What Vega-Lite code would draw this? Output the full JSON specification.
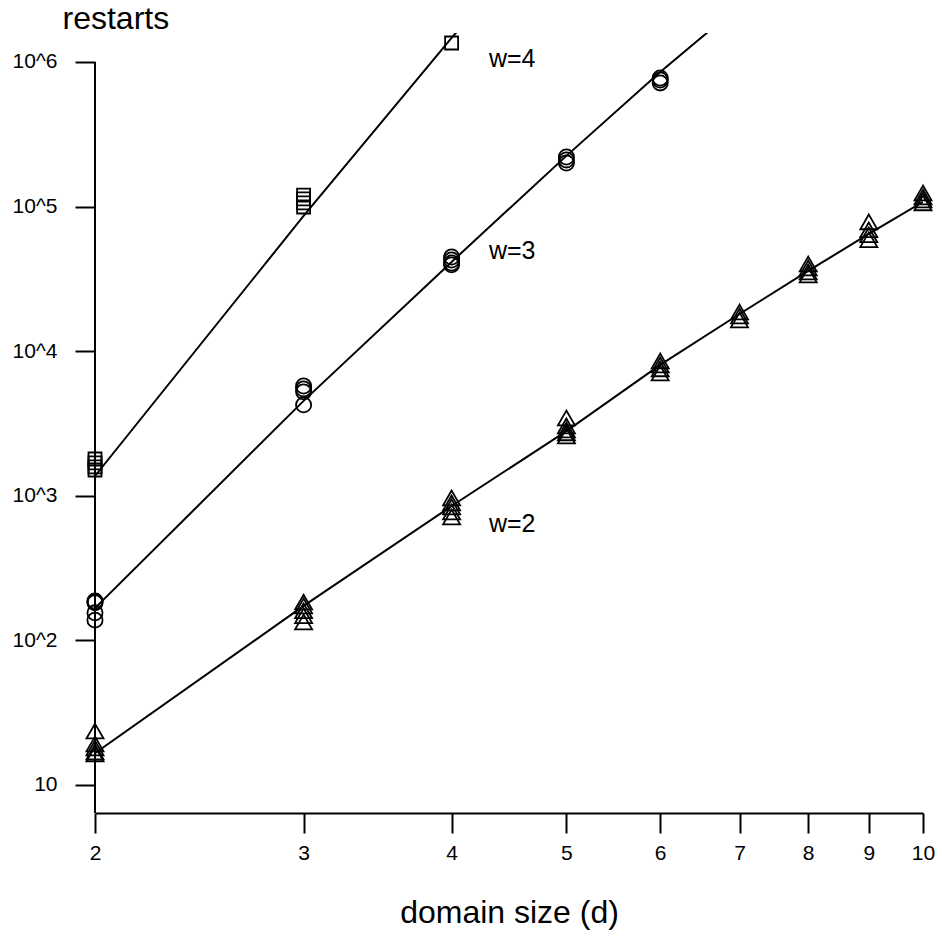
{
  "$schema": "https://vega.github.io/schema/vega-lite/v6.json",
  "width": 828,
  "height": 780,
  "autosize": {"type": "none"},
  "padding": {"left": 95, "top": 33, "right": 17, "bottom": 121},
  "background": "white",
  "config": {
    "view": {"stroke": null},
    "font": "Liberation Sans",
    "axis": {
      "grid": false,
      "domainColor": "black",
      "domainWidth": 2,
      "tickColor": "black",
      "tickWidth": 2,
      "tickSize": 20,
      "labelColor": "black",
      "labelFont": "Liberation Sans",
      "labelFontSize": 21,
      "titleColor": "black",
      "titleFont": "Liberation Sans",
      "titleFontWeight": "normal"
    }
  },
  "datasets": {
    "points": [
      {"d": 2, "restarts": 23.6, "w": "2"},
      {"d": 2, "restarts": 19.2, "w": "2"},
      {"d": 2, "restarts": 18.0, "w": "2"},
      {"d": 2, "restarts": 16.9, "w": "2"},
      {"d": 2, "restarts": 16.4, "w": "2"},
      {"d": 3, "restarts": 184, "w": "2"},
      {"d": 3, "restarts": 173, "w": "2"},
      {"d": 3, "restarts": 160, "w": "2"},
      {"d": 3, "restarts": 148, "w": "2"},
      {"d": 3, "restarts": 134, "w": "2"},
      {"d": 4, "restarts": 966, "w": "2"},
      {"d": 4, "restarts": 892, "w": "2"},
      {"d": 4, "restarts": 837, "w": "2"},
      {"d": 4, "restarts": 773, "w": "2"},
      {"d": 4, "restarts": 713, "w": "2"},
      {"d": 5, "restarts": 3450, "w": "2"},
      {"d": 5, "restarts": 3040, "w": "2"},
      {"d": 5, "restarts": 2850, "w": "2"},
      {"d": 5, "restarts": 2720, "w": "2"},
      {"d": 5, "restarts": 2590, "w": "2"},
      {"d": 6, "restarts": 8550, "w": "2"},
      {"d": 6, "restarts": 8030, "w": "2"},
      {"d": 6, "restarts": 7540, "w": "2"},
      {"d": 6, "restarts": 7070, "w": "2"},
      {"d": 7, "restarts": 18660, "w": "2"},
      {"d": 7, "restarts": 17500, "w": "2"},
      {"d": 7, "restarts": 16430, "w": "2"},
      {"d": 8, "restarts": 40090, "w": "2"},
      {"d": 8, "restarts": 37600, "w": "2"},
      {"d": 8, "restarts": 35300, "w": "2"},
      {"d": 8, "restarts": 33650, "w": "2"},
      {"d": 9, "restarts": 78300, "w": "2"},
      {"d": 9, "restarts": 69000, "w": "2"},
      {"d": 9, "restarts": 63700, "w": "2"},
      {"d": 9, "restarts": 58900, "w": "2"},
      {"d": 10, "restarts": 124000, "w": "2"},
      {"d": 10, "restarts": 116500, "w": "2"},
      {"d": 10, "restarts": 111000, "w": "2"},
      {"d": 10, "restarts": 106000, "w": "2"},
      {"d": 2, "restarts": 187, "w": "3"},
      {"d": 2, "restarts": 184.5, "w": "3"},
      {"d": 2, "restarts": 182, "w": "3"},
      {"d": 2, "restarts": 155, "w": "3"},
      {"d": 2, "restarts": 138, "w": "3"},
      {"d": 3, "restarts": 5740, "w": "3"},
      {"d": 3, "restarts": 5480, "w": "3"},
      {"d": 3, "restarts": 5230, "w": "3"},
      {"d": 3, "restarts": 4250, "w": "3"},
      {"d": 4, "restarts": 44800, "w": "3"},
      {"d": 4, "restarts": 42700, "w": "3"},
      {"d": 4, "restarts": 40700, "w": "3"},
      {"d": 4, "restarts": 39500, "w": "3"},
      {"d": 5, "restarts": 220000, "w": "3"},
      {"d": 5, "restarts": 210000, "w": "3"},
      {"d": 5, "restarts": 200000, "w": "3"},
      {"d": 6, "restarts": 774000, "w": "3"},
      {"d": 6, "restarts": 750000, "w": "3"},
      {"d": 6, "restarts": 716000, "w": "3"},
      {"d": 2, "restarts": 1795, "w": "4"},
      {"d": 2, "restarts": 1686, "w": "4"},
      {"d": 2, "restarts": 1582, "w": "4"},
      {"d": 2, "restarts": 1507, "w": "4"},
      {"d": 3, "restarts": 120000, "w": "4"},
      {"d": 3, "restarts": 113000, "w": "4"},
      {"d": 3, "restarts": 106000, "w": "4"},
      {"d": 3, "restarts": 99300, "w": "4"},
      {"d": 4, "restarts": 1352000, "w": "4"}
    ],
    "fits": [
      {"d": 2, "fit": 16.6, "w": "2"},
      {"d": 3, "fit": 173, "w": "2"},
      {"d": 4, "fit": 849, "w": "2"},
      {"d": 5, "fit": 2800, "w": "2"},
      {"d": 6, "fit": 8040, "w": "2"},
      {"d": 7, "fit": 18070, "w": "2"},
      {"d": 8, "fit": 35890, "w": "2"},
      {"d": 9, "fit": 64600, "w": "2"},
      {"d": 10, "fit": 107700, "w": "2"},
      {"d": 2, "fit": 167, "w": "3"},
      {"d": 3, "fit": 4530, "w": "3"},
      {"d": 4, "fit": 41400, "w": "3"},
      {"d": 5, "fit": 224000, "w": "3"},
      {"d": 6, "fit": 853000, "w": "3"},
      {"d": 7, "fit": 2450000, "w": "3"},
      {"d": 2, "fit": 1370, "w": "4"},
      {"d": 3, "fit": 86100, "w": "4"},
      {"d": 4, "fit": 1466000, "w": "4"},
      {"d": 5, "fit": 12200000, "w": "4"}
    ],
    "labels": [
      {"d": 4.5, "y": 1050000, "label": "w=4"},
      {"d": 4.5, "y": 49000, "label": "w=3"},
      {"d": 4.5, "y": 640, "label": "w=2"}
    ],
    "axisline": [
      {"d": 2, "y0": 6.4, "y1": 1000000}
    ]
  },
  "layer": [
    {
      "data": {"name": "axisline"},
      "mark": {"type": "rule", "color": "black", "strokeWidth": 2},
      "encoding": {
        "x": {"field": "d", "type": "quantitative", "scale": {"type": "log", "domain": [2, 10], "nice": false, "zero": false},
          "axis": {"values": [2, 3, 4, 5, 6, 7, 8, 9, 10], "format": "d", "labelPadding": 9, "title": "domain size (d)", "titleFontSize": 32, "titlePadding": 34, "labelFlush": false}},
        "y": {"field": "y0", "type": "quantitative", "scale": {"type": "log", "domain": [6.4, 1585000], "nice": false, "zero": false},
          "axis": {"values": [10, 100, 1000, 10000, 100000, 1000000], "domain": false, "labelPadding": 18,
            "labelExpr": "datum.value == 10 ? '10' : '10^' + round(log(datum.value) / LN10)",
            "title": "restarts", "titleAngle": 0, "titleAlign": "left", "titleBaseline": "alphabetic", "titleX": -33, "titleY": -5, "titleFontSize": 32}},
        "y2": {"field": "y1"}
      }
    },
    {
      "data": {"name": "fits"},
      "mark": {"type": "line", "color": "black", "strokeWidth": 2, "clip": true},
      "encoding": {
        "x": {"field": "d", "type": "quantitative"},
        "y": {"field": "fit", "type": "quantitative"},
        "detail": {"field": "w", "type": "nominal"}
      }
    },
    {
      "data": {"name": "points"},
      "mark": {"type": "point", "filled": false, "stroke": "black", "strokeWidth": 1.8, "opacity": 1},
      "encoding": {
        "x": {"field": "d", "type": "quantitative"},
        "y": {"field": "restarts", "type": "quantitative"},
        "shape": {"field": "w", "type": "nominal", "scale": {"domain": ["2", "3", "4"], "range": ["triangle-up", "circle", "square"]}, "legend": null},
        "size": {"field": "w", "type": "nominal", "scale": {"domain": ["2", "3", "4"], "range": [289, 169, 169]}, "legend": null}
      }
    },
    {
      "data": {"name": "labels"},
      "mark": {"type": "text", "font": "Liberation Sans", "fontSize": 25, "align": "center", "baseline": "middle", "color": "black"},
      "encoding": {
        "x": {"field": "d", "type": "quantitative"},
        "y": {"field": "y", "type": "quantitative"},
        "text": {"field": "label", "type": "nominal"}
      }
    }
  ]
}
